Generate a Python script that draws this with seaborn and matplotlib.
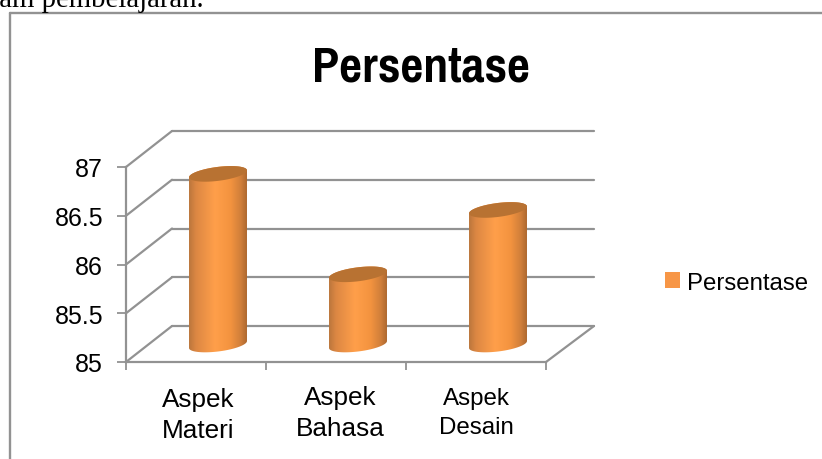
import numpy as np
import pandas as pd
import matplotlib
matplotlib.use('Agg')
import matplotlib.pyplot as plt
import seaborn as sns
from matplotlib.colors import LinearSegmentedColormap
from matplotlib.lines import Line2D
from matplotlib.patches import Patch, Polygon
from matplotlib.path import Path
from matplotlib.transforms import IdentityTransform

# values
categories = ['Aspek Materi', 'Aspek Bahasa', 'Aspek Desain']
persentase = [86.75, 85.72, 86.38]
cat_labels = ['Aspek\nMateri', 'Aspek\nBahasa', 'Aspek\nDesain']
y_ticks = [85, 85.5, 86, 86.5, 87]
y_tick_labels = ['85', '85.5', '86', '86.5', '87']
series_name = 'Persentase'

W, H = 822, 460
GREY = '#929292'
FONT = ['Liberation Sans', 'DejaVu Sans']

sns.set_theme(style='white')
plt.rcParams['font.family'] = FONT

fig = plt.figure(figsize=(W / 100, H / 100), dpi=100, facecolor='white')


def axes_px(left, top, right, bottom):
    return fig.add_axes([left / W, 1 - bottom / H, (right - left) / W, (bottom - top) / H])


def fig_line(x0, y0, x1, y1, lw=1.6):
    fig.add_artist(Line2D([x0 / W, x1 / W], [1 - y0 / H, 1 - y1 / H], color=GREY, lw=lw,
                          transform=fig.transFigure))


# frame of the pasted chart and the clipped line of page text above it
fig_line(10, 14, W, 14, lw=1.7)
fig_line(10, 14, 10, H, lw=1.7)
fig.text(204 / W, 1 - 7 / H, 'dalam pembelajaran.', ha='right', va='baseline', fontsize=20.7,
         family=['Liberation Serif', 'DejaVu Serif'], color='black')

# back wall
ax_back = axes_px(172, 132, 594, 327)
ax_back.set_ylim(85, 87)
ax_back.set_xlim(0, 1)
ax_back.set_yticks(y_ticks)
ax_back.set_xticks([])
ax_back.tick_params(left=False, labelleft=False)
ax_back.grid(axis='y', color=GREY, lw=1.6)
ax_back.patch.set_alpha(0)
sns.despine(ax=ax_back, left=True, bottom=True)
for gl in ax_back.get_ygridlines():
    gl.set_clip_on(False)

# front plane with the axes
ax = axes_px(126, 168, 546, 363)
ax.set_xlim(-0.5, 2.5)
ax.set_ylim(85, 87)
ax.set_yticks(y_ticks)
ax.set_yticklabels(y_tick_labels, fontsize=18, color='black', va='center_baseline')
ax.set_xticks([-0.5, 0.5, 1.5, 2.5])
ax.set_xticklabels([])
ax.tick_params(axis='y', left=True, length=6.5, width=1.3, color=GREY, pad=10)
ax.tick_params(axis='x', bottom=True, length=6, width=1.3, color=GREY)
ax.patch.set_alpha(0)
sns.despine(ax=ax)
for side in ['left', 'bottom']:
    ax.spines[side].set_color(GREY)
    ax.spines[side].set_linewidth(1.6)

# depth lines between front plane and back wall
for v in y_ticks:
    py = 363 - (v - 85) * 97.5
    fig_line(126, py, 172, py - 36)
fig_line(546, 363, 594, 327)

# cylinders
df = pd.DataFrame({'kategori': categories, 'persen': persentase})
ax_bar = axes_px(148, 150.5, 568, 345.5)
sns.barplot(data=df, x='kategori', y='persen', color='#f79646', width=0.414, ax=ax_bar)
ax_bar.set_xlim(-0.5, 2.5)
ax_bar.set_ylim(85, 87)
ax_bar.axis('off')
ax_bar.patch.set_alpha(0)

shade = LinearSegmentedColormap.from_list('cyl', [
    (0.0, '#bb763c'), (0.12, '#dc8743'), (0.45, '#ff9f4a'),
    (0.72, '#f3933f'), (0.9, '#cf7e3a'), (1.0, '#ad682f')])
grad = np.linspace(0, 1, 256).reshape(1, -1)
t = np.linspace(0, 2 * np.pi, 121)
TILT = 0.12
B = 7.0

for bar in ax_bar.patches:
    x0 = bar.get_x()
    x1 = x0 + bar.get_width()
    (px0, ptop), (px1, pbase) = ax_bar.transData.transform([(x0, bar.get_height()), (x1, 85)])
    cx, a = (px0 + px1) / 2, (px1 - px0) / 2
    # sheared ellipses give the slightly tilted look of the cylinder ends
    ex = cx + a * np.cos(t)
    shear = a * np.cos(t) * TILT
    top_ring = np.column_stack([ex, ptop + B * np.sin(t) + shear])
    base_ring = np.column_stack([ex, pbase + B * np.sin(t) + shear])
    upper = t <= np.pi
    lower = t >= np.pi
    body = np.vstack([base_ring[lower], top_ring[upper], base_ring[lower][:1]])
    im = ax_bar.imshow(grad, cmap=shade, aspect='auto', zorder=3,
                       extent=(x0, x1, 84.7, bar.get_height() + 0.1))
    im.set_clip_box(fig.bbox)
    im.set_clip_path(Path(body), IdentityTransform())
    ax_bar.add_patch(Polygon(top_ring, closed=True, facecolor='#b87232', edgecolor='none',
                             transform=IdentityTransform(), clip_on=False, zorder=4))
    bar.set_visible(False)
ax_bar.set_xlim(-0.5, 2.5)
ax_bar.set_ylim(85, 87)

# category labels sit off the axis centres and differ a little in size
label_pos = [(198, 415.5, 18.8), (340, 413.5, 18.8), (476.5, 413.5, 17.4)]
for lab, (px, py, fs) in zip(cat_labels, label_pos):
    fig.text(px / W, 1 - py / H, lab, ha='center', va='center', fontsize=fs, color='black',
             linespacing=1.37)

fig.text(421 / W, 1 - 82 / H, series_name, ha='center', va='baseline', fontsize=39,
         fontweight='bold', family=['Pragati Narrow', 'Liberation Sans'], color='black')

fig.legend(handles=[Patch(facecolor='#f79646', edgecolor='none', label=series_name)],
           loc='center left', bbox_to_anchor=(658 / W, 1 - 283.5 / H), frameon=False,
           fontsize=17.3, labelcolor='black', handlelength=0.62, handleheight=0.62,
           handletextpad=0.3, borderpad=0, borderaxespad=0.3)

fig.savefig('out.png', dpi=100)
